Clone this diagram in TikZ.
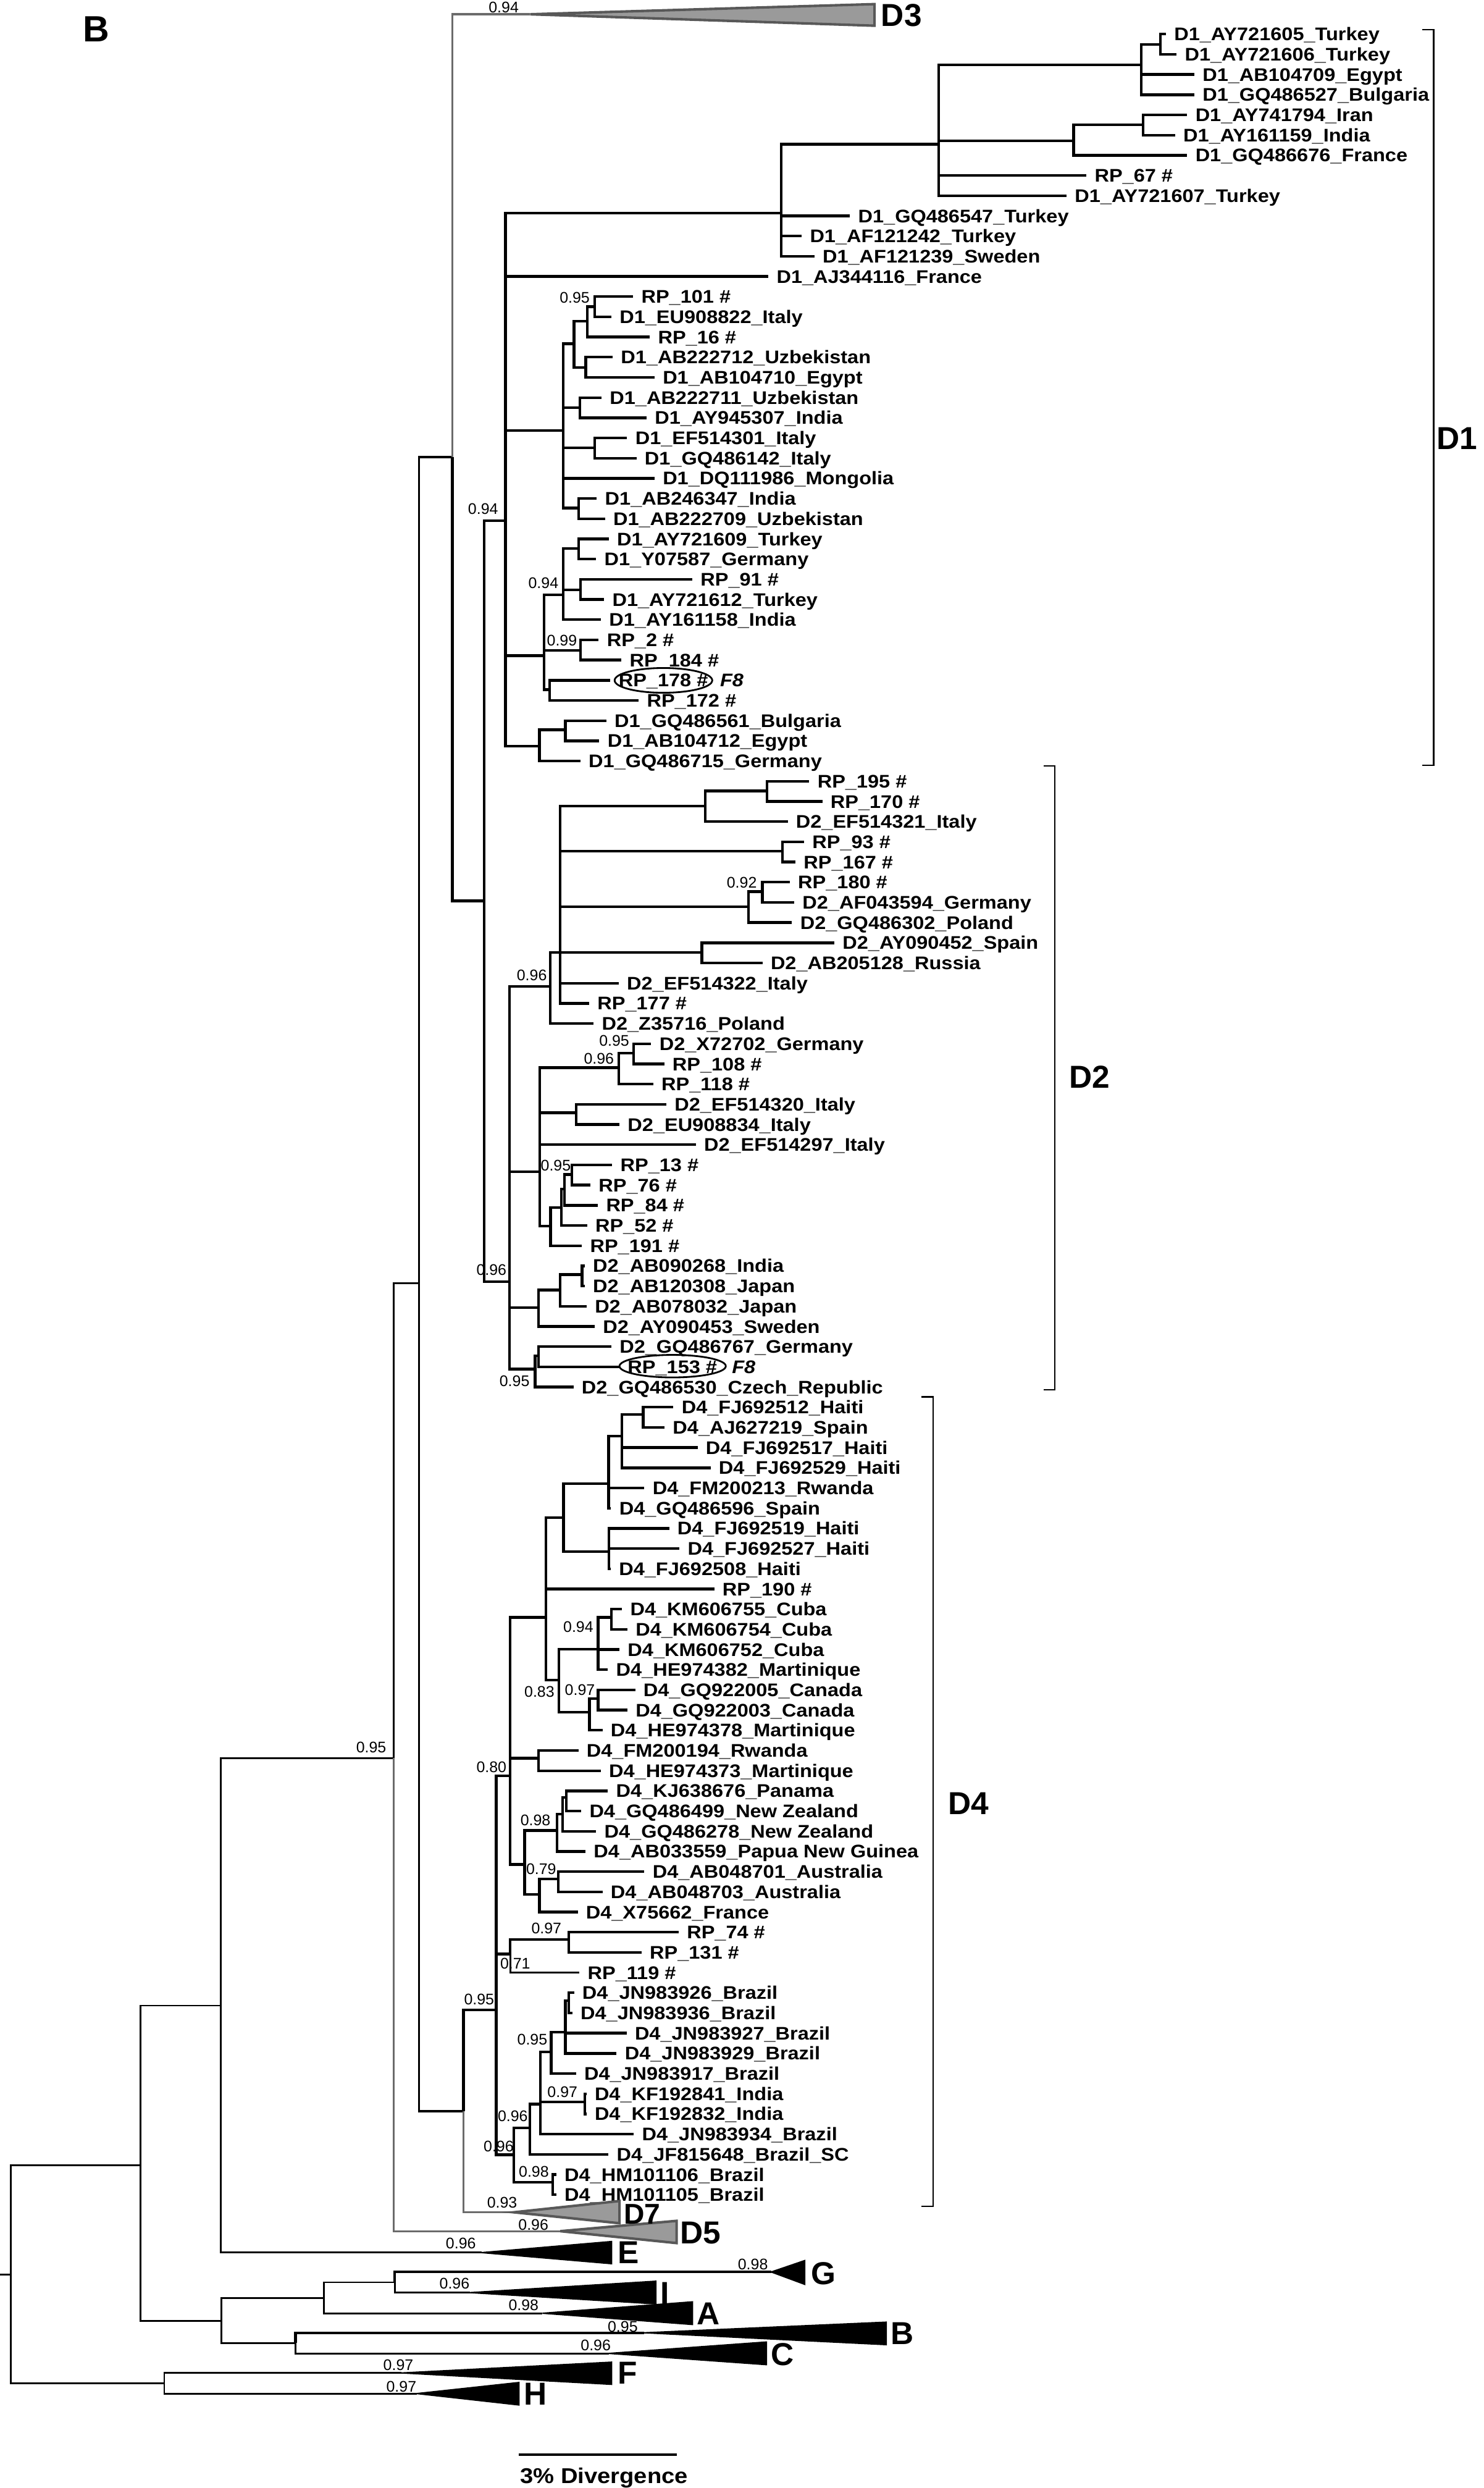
\documentclass[tikz,border=0pt]{standalone}
\usepackage{fontspec}
\setmainfont{Liberation Sans}
\newfontfamily\leaffont{Liberation Sans}[FakeStretch=1.1]
\usetikzlibrary{shapes.geometric}
\definecolor{lgray}{HTML}{6B6B6B}
\definecolor{tfill}{HTML}{9A9A9A}
\definecolor{tedge}{HTML}{585858}
\newcommand\lf[3]{\coordinate (L#1) at (#2,{21.5+12.72*#1}); \node[leaf] (T#1) at (L#1) {#3};}
\newcommand\kids[3][br]{\foreach \c in {#3}{\draw[#1] (#2) |- (\c);}}
\begin{document}
\begin{tikzpicture}[x=1pt,y=-1pt,
  br/.style={line width=1.7pt},
  mid/.style={line width=1.4pt},
  bb/.style={line width=1.1pt},
  gr/.style={line width=1.3pt,draw=lgray},
  leaf/.style={anchor=base west,xshift=5pt,yshift=-4.1pt,inner sep=0pt,font=\leaffont\bfseries\fontsize{11.5}{11.5}\selectfont},
  supp/.style={anchor=base east,inner sep=0pt,yshift=-3.5pt,font=\fontsize{9.7}{9.7}\selectfont},
  clab/.style={anchor=west,inner sep=0pt,font=\bfseries\fontsize{20}{20}\selectfont},
  gtri/.style={fill=tfill,draw=tedge,line width=1.6pt,line join=miter},
  btri/.style={fill=black,draw=black,line width=0.8pt,line join=miter},
  brk/.style={line width=0.9pt}]
\useasboundingbox (0,0) rectangle (935,1567.3);

% panel letter
\node[anchor=west,inner sep=0pt,font=\bfseries\fontsize{23}{23}\selectfont] (panel) at (52,18.5) {B};

% ---------- backbone coordinates ----------
\coordinate (R0) at (0,1432.7);
\coordinate (R) at (6.7,1432.7);
\coordinate (N1) at (88.4,1364);
\coordinate (FH) at (103.5,1501.3);
\coordinate (N2) at (139,1263.4);
\coordinate (GIABC) at (139.6,1462);
\coordinate (N3) at (248,1107.5);
\coordinate (N4) at (264,808.5);
\coordinate (N5) at (285,288);
\coordinate (N6) at (292,1330);
\coordinate (N7) at (305,567.5);
\coordinate (D1r) at (318.5,328);
\coordinate (D2r) at (321,807.5);
\coordinate (D4r) at (312.6,1266);
\coordinate (GIA) at (204,1447.5);
\coordinate (BC) at (186.2,1476);
\coordinate (GI) at (248.7,1437.7);
% collapsed clade apices
\coordinate (D3) at (334,9);
\coordinate (D7) at (323.7,1393.6);
\coordinate (D5) at (353,1405.5);
\coordinate (E) at (303.4,1419);
\coordinate (G) at (485.9,1431.2);
\coordinate (I) at (296,1444.2);
\coordinate (A) at (341.8,1457.2);
\coordinate (B) at (405.8,1469.5);
\coordinate (C) at (383.5,1482.5);
\coordinate (F) at (253,1494.8);
\coordinate (H) at (262.5,1507.8);

% ---------- D1 internal nodes ----------
\coordinate (D1a) at (492.1,134.2);
\coordinate (D1b) at (591.4,90.8);
\coordinate (D1c) at (719,40.9);
\coordinate (D1e) at (731,27.9);
\coordinate (D1d) at (676.5,88.8);
\coordinate (D1f) at (720.3,78.5);
\coordinate (D1g) at (354.8,271.1);
\coordinate (g1) at (361.7,216.6);
\coordinate (g5) at (370.1,202.3);
\coordinate (g7) at (374.6,193.2);
\coordinate (g6) at (369.1,231.5);
\coordinate (g2) at (365.3,256.8);
\coordinate (g3) at (374.6,282.1);
\coordinate (g4) at (364.7,320.1);
\coordinate (D1h) at (342.9,413.1);
\coordinate (h1) at (354.8,374.8);
\coordinate (h4) at (364.7,345.6);
\coordinate (h5) at (365.7,371.5);
\coordinate (h2) at (365.7,409.8);
\coordinate (h3) at (346.3,434.5);
\coordinate (D1i) at (339.9,470.1);
\coordinate (i1) at (356.2,459.7);

% ---------- D2 internal nodes ----------
\coordinate (a1) at (346.7,621.3);
\coordinate (a2) at (352.9,599.9);
\coordinate (a3) at (444.4,507.8);
\coordinate (a7) at (483.2,498.3);
\coordinate (a4) at (493,536.3);
\coordinate (a5) at (471.7,571.3);
\coordinate (a8) at (480.4,561.6);
\coordinate (a6) at (442.2,599.9);
\coordinate (b) at (340.1,738);
\coordinate (b1) at (389.8,672.5);
\coordinate (b4) at (399.3,663.4);
\coordinate (b2) at (363,701);
\coordinate (b3) at (346.9,772.3);
\coordinate (b5) at (353.8,760.7);
\coordinate (b6) at (355.7,749);
\coordinate (b7) at (360.3,739.9);
\coordinate (c1) at (339.4,823.6);
\coordinate (c2) at (352.8,812.6);
\coordinate (c3) at (366.7,802.9);
\coordinate (c4) at (337.2,862.5);
\coordinate (c5) at (339.4,854.1);

% ---------- D4 internal nodes ----------
\coordinate (n080) at (321.5,1118.7);
\coordinate (n071) at (321.5,1230.9);
\coordinate (n096) at (323.8,1357.3);
\coordinate (d6) at (343.9,1018.8);
\coordinate (d1) at (355,955.9);
\coordinate (d2) at (383.4,934.5);
\coordinate (d3) at (391.9,904.7);
\coordinate (d4) at (405.3,891.1);
\coordinate (d5) at (383.6,977.3);
\coordinate (d7) at (352.1,1058.3);
\coordinate (d8) at (376.9,1038.9);
\coordinate (d10) at (385.2,1018.8);
\coordinate (d9) at (371.4,1078.5);
\coordinate (d11) at (376.9,1070);
\coordinate (d12) at (339.4,1107.6);
\coordinate (d13) at (330.5,1174.5);
\coordinate (d14) at (351,1153.1);
\coordinate (d16) at (354.4,1142.7);
\coordinate (d17) at (356.8,1132.3);
\coordinate (d15) at (339.9,1193.3);
\coordinate (d18) at (351.7,1183.6);
\coordinate (d19) at (358.4,1221.8);
\coordinate (e6) at (333.8,1340.5);
\coordinate (e4) at (340.5,1325.5);
\coordinate (e3) at (347.2,1292.5);
\coordinate (e2) at (356.2,1280.2);
\coordinate (e1) at (358.4,1260.4);
\coordinate (e5) at (368.4,1324);
\coordinate (e7) at (348.3,1374.8);

% ---------- leaves ----------
\lf{0}{734.6}{D1\_AY721605\_Turkey}
\lf{1}{741.3}{D1\_AY721606\_Turkey}
\lf{2}{752.5}{D1\_AB104709\_Egypt}
\lf{3}{752.5}{D1\_GQ486527\_Bulgaria}
\lf{4}{748}{D1\_AY741794\_Iran}
\lf{5}{740.4}{D1\_AY161159\_India}
\lf{6}{748}{D1\_GQ486676\_France}
\lf{7}{684.5}{RP\_67 \#}
\lf{8}{672}{D1\_AY721607\_Turkey}
\lf{9}{535.5}{D1\_GQ486547\_Turkey}
\lf{10}{505.1}{D1\_AF121242\_Turkey}
\lf{11}{513.1}{D1\_AF121239\_Sweden}
\lf{12}{484.1}{D1\_AJ344116\_France}
\lf{13}{398.9}{RP\_101 \#}
\lf{14}{385.2}{D1\_EU908822\_Italy}
\lf{15}{409.4}{RP\_16 \#}
\lf{16}{386}{D1\_AB222712\_Uzbekistan}
\lf{17}{412.4}{D1\_AB104710\_Egypt}
\lf{18}{379}{D1\_AB222711\_Uzbekistan}
\lf{19}{407.4}{D1\_AY945307\_India}
\lf{20}{395.1}{D1\_EF514301\_Italy}
\lf{21}{401}{D1\_GQ486142\_Italy}
\lf{22}{412.4}{D1\_DQ111986\_Mongolia}
\lf{23}{376}{D1\_AB246347\_India}
\lf{24}{381.2}{D1\_AB222709\_Uzbekistan}
\lf{25}{383.6}{D1\_AY721609\_Turkey}
\lf{26}{375.6}{D1\_Y07587\_Germany}
\lf{27}{436.2}{RP\_91 \#}
\lf{28}{380.6}{D1\_AY721612\_Turkey}
\lf{29}{378.6}{D1\_AY161158\_India}
\lf{30}{377.2}{RP\_2 \#}
\lf{31}{391.5}{RP\_184 \#}
\lf{32}{384.6}{RP\_178 \#}
\lf{33}{402.4}{RP\_172 \#}
\lf{34}{382}{D1\_GQ486561\_Bulgaria}
\lf{35}{377.6}{D1\_AB104712\_Egypt}
\lf{36}{365.7}{D1\_GQ486715\_Germany}
\lf{37}{509.9}{RP\_195 \#}
\lf{38}{518.1}{RP\_170 \#}
\lf{39}{496.3}{D2\_EF514321\_Italy}
\lf{40}{506.6}{RP\_93 \#}
\lf{41}{501.2}{RP\_167 \#}
\lf{42}{497.6}{RP\_180 \#}
\lf{43}{500.4}{D2\_AF043594\_Germany}
\lf{44}{499}{D2\_GQ486302\_Poland}
\lf{45}{525.7}{D2\_AY090452\_Spain}
\lf{46}{480.4}{D2\_AB205128\_Russia}
\lf{47}{389.8}{D2\_EF514322\_Italy}
\lf{48}{371.2}{RP\_177 \#}
\lf{49}{374}{D2\_Z35716\_Poland}
\lf{50}{410.3}{D2\_X72702\_Germany}
\lf{51}{418.5}{RP\_108 \#}
\lf{52}{411.6}{RP\_118 \#}
\lf{53}{419.8}{D2\_EF514320\_Italy}
\lf{54}{390.3}{D2\_EU908834\_Italy}
\lf{55}{438.4}{D2\_EF514297\_Italy}
\lf{56}{385.7}{RP\_13 \#}
\lf{57}{372}{RP\_76 \#}
\lf{58}{376.7}{RP\_84 \#}
\lf{59}{369.9}{RP\_52 \#}
\lf{60}{366.6}{RP\_191 \#}
\lf{61}{368.4}{D2\_AB090268\_India}
\lf{62}{368.4}{D2\_AB120308\_Japan}
\lf{63}{369.6}{D2\_AB078032\_Japan}
\lf{64}{374.7}{D2\_AY090453\_Sweden}
\lf{65}{385.2}{D2\_GQ486767\_Germany}
\lf{66}{390.3}{RP\_153 \#}
\lf{67}{361.3}{D2\_GQ486530\_Czech\_Republic}
\lf{68}{424.3}{D4\_FJ692512\_Haiti}
\lf{69}{418.7}{D4\_AJ627219\_Spain}
\lf{70}{439.5}{D4\_FJ692517\_Haiti}
\lf{71}{447.7}{D4\_FJ692529\_Haiti}
\lf{72}{406}{D4\_FM200213\_Rwanda}
\lf{73}{385}{D4\_GQ486596\_Spain}
\lf{74}{421.6}{D4\_FJ692519\_Haiti}
\lf{75}{428.1}{D4\_FJ692527\_Haiti}
\lf{76}{384.8}{D4\_FJ692508\_Haiti}
\lf{77}{450}{RP\_190 \#}
\lf{78}{391.9}{D4\_KM606755\_Cuba}
\lf{79}{395.3}{D4\_KM606754\_Cuba}
\lf{80}{390.3}{D4\_KM606752\_Cuba}
\lf{81}{383}{D4\_HE974382\_Martinique}
\lf{82}{400.2}{D4\_GQ922005\_Canada}
\lf{83}{395.3}{D4\_GQ922003\_Canada}
\lf{84}{379.6}{D4\_HE974378\_Martinique}
\lf{85}{364.4}{D4\_FM200194\_Rwanda}
\lf{86}{378.5}{D4\_HE974373\_Martinique}
\lf{87}{383}{D4\_KJ638676\_Panama}
\lf{88}{366.2}{D4\_GQ486499\_New Zealand}
\lf{89}{375.6}{D4\_GQ486278\_New Zealand}
\lf{90}{368.9}{D4\_AB033559\_Papua New Guinea}
\lf{91}{406}{D4\_AB048701\_Australia}
\lf{92}{379.6}{D4\_AB048703\_Australia}
\lf{93}{364}{D4\_X75662\_France}
\lf{94}{427.6}{RP\_74 \#}
\lf{95}{404.2}{RP\_131 \#}
\lf{96}{365.1}{RP\_119 \#}
\lf{97}{361.7}{D4\_JN983926\_Brazil}
\lf{98}{360.6}{D4\_JN983936\_Brazil}
\lf{99}{394.8}{D4\_JN983927\_Brazil}
\lf{100}{388.5}{D4\_JN983929\_Brazil}
\lf{101}{362.9}{D4\_JN983917\_Brazil}
\lf{102}{369.5}{D4\_KF192841\_India}
\lf{103}{369.5}{D4\_KF192832\_India}
\lf{104}{399.3}{D4\_JN983934\_Brazil}
\lf{105}{383.4}{D4\_JF815648\_Brazil\_SC}
\lf{106}{350.5}{D4\_HM101106\_Brazil}
\lf{107}{350.5}{D4\_HM101105\_Brazil}

% ---------- backbone branches ----------
\draw[bb] (R0) -- (R);
\kids[bb]{R}{N1,FH}
\kids[bb]{N1}{N2,GIABC}
\kids[bb]{N2}{N3,E}
\kids[bb]{N3}{N4}
\kids[gr]{N3}{D5}
\kids[mid]{N4}{N5,N6}
\kids[gr]{N5}{D3}
\kids[br]{N5}{N7}
\kids[br]{N6}{D4r}
\kids[gr]{N6}{D7}
\kids[br]{N7}{D1r,D2r}
\kids[bb]{FH}{F,H}
\kids[bb]{GIABC}{GIA,BC}
\kids[bb]{GIA}{GI,A}
\kids[br]{GI}{G}
\kids[bb]{GI}{I}
\kids[br]{BC}{B}
\kids[bb]{BC}{C}

% ---------- D1 branches ----------
\kids{D1r}{D1a,L12,D1g,D1h,D1i}
\kids{D1a}{D1b,L9,L10,L11}
\kids{D1b}{D1c,D1d,L7,L8}
\kids{D1c}{D1e,L2,L3}
\kids{D1e}{L0,L1}
\kids{D1d}{D1f,L6}
\kids{D1f}{L4,L5}
\kids{D1g}{g1,g2,g3,L22,g4}
\kids{g1}{g5,g6}
\kids{g5}{g7,L15}
\kids{g7}{L13,L14}
\kids{g6}{L16,L17}
\kids{g2}{L18,L19}
\kids{g3}{L20,L21}
\kids{g4}{L23,L24}
\kids{D1h}{h1,h2,h3}
\kids{h1}{h4,h5,L29}
\kids{h4}{L25,L26}
\kids{h5}{L27,L28}
\kids{h2}{L30,L31}
\kids{h3}{L32,L33}
\kids{D1i}{i1,L36}
\kids{i1}{L34,L35}

% ---------- D2 branches ----------
\kids{D2r}{a1,b,c1,c4}
\kids{a1}{a2,L49}
\kids{a2}{a3,a4,a5,a6,L47,L48}
\kids{a3}{a7,L39}
\kids{a7}{L37,L38}
\kids{a4}{L40,L41}
\kids{a5}{a8,L44}
\kids{a8}{L42,L43}
\kids{a6}{L45,L46}
\kids{b}{b1,b2,L55,b3}
\kids{b1}{b4,L52}
\kids{b4}{L50,L51}
\kids{b2}{L53,L54}
\kids{b3}{b5,L60}
\kids{b5}{b6,L59}
\kids{b6}{b7,L58}
\kids{b7}{L56,L57}
\kids{c1}{c2,L64}
\kids{c2}{c3,L63}
\kids{c3}{L61,L62}
\kids{c4}{c5,L67}
\kids{c5}{L65,L66}

% ---------- D4 branches ----------
\kids{D4r}{n080,n071,n096}
\kids{n080}{d6,d12,d13}
\kids{d6}{d1,L77,d7}
\kids{d1}{d2,d5}
\kids{d2}{d3,L72,L73}
\kids{d3}{d4,L70,L71}
\kids{d4}{L68,L69}
\kids{d5}{L74,L75,L76}
\kids{d7}{d8,d9}
\kids{d8}{d10,L80,L81}
\kids{d10}{L78,L79}
\kids{d9}{d11,L84}
\kids{d11}{L82,L83}
\kids{d12}{L85,L86}
\kids{d13}{d14,d15}
\kids{d14}{d16,L90}
\kids{d16}{d17,L89}
\kids{d17}{L87,L88}
\kids{d15}{d18,L93}
\kids{d18}{L91,L92}
\kids{n071}{d19}
\kids[bb]{n071}{L96}
\kids{d19}{L94,L95}
\kids{n096}{e6,e7}
\kids{e6}{e4,L105}
\kids{e4}{e3,e5,L104}
\kids{e3}{e2,L101}
\kids{e2}{e1,L99,L100}
\kids{e1}{L97,L98}
\kids{e5}{L102,L103}
\kids{e7}{L106,L107}

% ---------- collapsed clades ----------
\filldraw[gtri] (D3) -- (551,2.6) -- (551,16.2) -- cycle;
\filldraw[gtri] (D7) -- (390.3,1386.5) -- (390.3,1400.5) -- cycle;
\filldraw[gtri] (D5) -- (426.3,1399) -- (426.3,1413) -- cycle;
\filldraw[btri] (E) -- (385.3,1412) -- (385.3,1426) -- cycle;
\filldraw[btri] (G) -- (507,1424) -- (507,1439) -- cycle;
\filldraw[btri] (I) -- (413.3,1437) -- (413.3,1451.3) -- cycle;
\filldraw[btri] (A) -- (436.3,1450) -- (436.3,1464.3) -- cycle;
\filldraw[btri] (B) -- (558.4,1462.8) -- (558.4,1477) -- cycle;
\filldraw[btri] (C) -- (482.9,1475.3) -- (482.9,1489.6) -- cycle;
\filldraw[btri] (F) -- (385.3,1488) -- (385.3,1502) -- cycle;
\filldraw[btri] (H) -- (327,1500.8) -- (327,1515) -- cycle;

\node[clab] (lD3) at (555,9.5) {D3};
\node[clab,font=\bfseries\fontsize{18}{18}\selectfont] (lD7) at (393,1394.8) {D7};
\node[clab] (lD5) at (428.5,1406.5) {D5};
\node[clab] (lE) at (389,1419) {E};
\node[clab] (lG) at (511,1432) {G};
\node[clab] (lI) at (416,1444.5) {I};
\node[clab] (lA) at (439,1457.5) {A};
\node[clab] (lB) at (561,1470) {B};
\node[clab] (lC) at (485.5,1483) {C};
\node[clab] (lF) at (389,1495) {F};
\node[clab] (lH) at (330,1508) {H};

% ---------- highlighted F8 sequences ----------
\node[ellipse,draw,line width=1.1pt,minimum width=61.5pt,minimum height=15.6pt,inner sep=0pt] (el178) at (418,428.6) {};
\node[ellipse,draw,line width=1.1pt,minimum width=67pt,minimum height=14.2pt,inner sep=0pt] (el153) at (423.8,860.6) {};
\node[anchor=base west,inner sep=0pt,yshift=-4.1pt,font=\leaffont\bfseries\itshape\fontsize{11.5}{11.5}\selectfont] (f8a) at (453.5,{21.5+12.72*32}) {F8};
\node[anchor=base west,inner sep=0pt,yshift=-4.1pt,font=\leaffont\bfseries\itshape\fontsize{11.5}{11.5}\selectfont] (f8b) at (461,{21.5+12.72*66}) {F8};

% ---------- brackets ----------
\coordinate (k1a) at (896,18.8); \coordinate (k1b) at (903.3,18.8);
\coordinate (k1c) at (903.3,482); \coordinate (k1d) at (896,482);
\draw[brk] (k1a) -- (k1b) -- (k1c) -- (k1d);
\coordinate (k2a) at (657.5,482.5); \coordinate (k2b) at (664.7,482.5);
\coordinate (k2c) at (664.7,875.5); \coordinate (k2d) at (657.5,875.5);
\draw[brk] (k2a) -- (k2b) -- (k2c) -- (k2d);
\coordinate (k4a) at (580.6,880); \coordinate (k4b) at (587.8,880);
\coordinate (k4c) at (587.8,1389.8); \coordinate (k4d) at (580.6,1389.8);
\draw[brk] (k4a) -- (k4b) -- (k4c) -- (k4d);
\node[clab] (lD1) at (905,276) {D1};
\node[clab] (lD2) at (673.5,678.3) {D2};
\node[clab] (lD4) at (597.4,1136.2) {D4};

% ---------- support values ----------
\node[supp] (s1) at (327,4.5) {0.94};
\node[supp] (s2) at (314,320.4) {0.94};
\node[supp] (s3) at (371.7,187.4) {0.95};
\node[supp] (s4) at (352,367) {0.94};
\node[supp] (s5) at (363.7,403.3) {0.99};
\node[supp] (s6) at (477,555.8) {0.92};
\node[supp] (s7) at (344.7,614.2) {0.96};
\node[supp] (s8) at (396.6,655.6) {0.95};
\node[supp] (s9) at (387,666.6) {0.96};
\node[supp] (s10) at (359.8,734.1) {0.95};
\node[supp] (s11) at (319.3,799.6) {0.96};
\node[supp] (s12) at (333.8,869.7) {0.95};
\node[supp] (s13) at (374,1024.6) {0.94};
\node[supp] (s14) at (349.5,1065.5) {0.83};
\node[supp] (s15) at (375,1064.2) {0.97};
\node[supp] (s16) at (319.3,1112.9) {0.80};
\node[supp] (s17) at (347,1146.6) {0.98};
\node[supp] (s18) at (350.6,1177.1) {0.79};
\node[supp] (s19) at (353.9,1214.7) {0.97};
\node[supp,anchor=base west] (s20) at (315,1236.7) {0.71};
\node[supp] (s21) at (311.5,1259.4) {0.95};
\node[supp] (s22) at (345,1284.7) {0.95};
\node[supp] (s23) at (364,1317.8) {0.97};
\node[supp] (s24) at (332.7,1332.7) {0.96};
\node[supp] (s25) at (323.8,1352.1) {0.96};
\node[supp] (s26) at (346,1367.7) {0.98};
\node[supp] (s27) at (326,1387.2) {0.93};
\node[supp] (s28) at (345.7,1401.4) {0.96};
\node[supp] (s29) at (243.5,1100.5) {0.95};
\node[supp] (s30) at (300,1413.1) {0.96};
\node[supp] (s31) at (484,1426.1) {0.98};
\node[supp] (s32) at (296,1438.4) {0.96};
\node[supp] (s33) at (339.5,1452) {0.98};
\node[supp] (s34) at (402,1465.6) {0.95};
\node[supp] (s35) at (385,1477.3) {0.96};
\node[supp] (s36) at (260.6,1489.6) {0.97};
\node[supp] (s37) at (262.5,1503.2) {0.97};

% ---------- scale bar ----------
\coordinate (sb1) at (326.9,1546.3);
\coordinate (sb2) at (426.3,1546.3);
\draw[line width=1.7pt] (sb1) -- (sb2);
\node[anchor=base west,inner sep=0pt,font=\leaffont\bfseries\fontsize{13.5}{13.5}\selectfont] (sbt) at (327.6,1564.2) {3\% Divergence};
\end{tikzpicture}
\end{document}
